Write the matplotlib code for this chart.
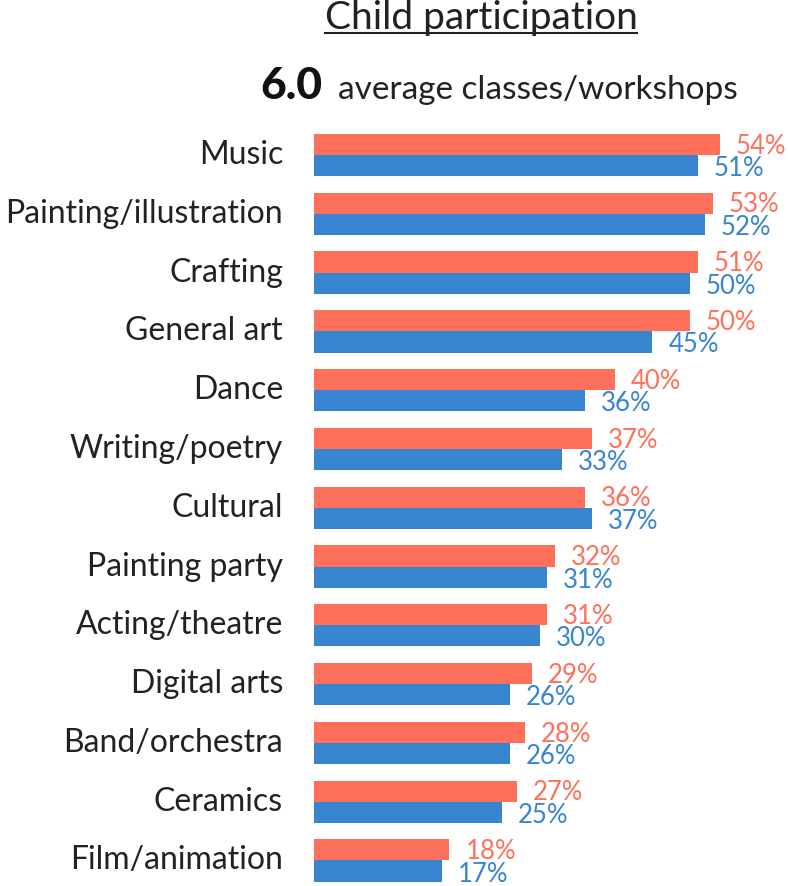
import matplotlib
matplotlib.use("Agg")
import matplotlib.pyplot as plt
from matplotlib.lines import Line2D
import numpy as np

categories = ["Music", "Painting/illustration", "Crafting", "General art", "Dance",
              "Writing/poetry", "Cultural", "Painting party", "Acting/theatre",
              "Digital arts", "Band/orchestra", "Ceramics", "Film/animation"]
coral_vals = [54, 53, 51, 50, 40, 37, 36, 32, 31, 29, 28, 27, 18]
blue_vals = [51, 52, 50, 45, 36, 33, 37, 31, 30, 26, 26, 25, 17]
avg_value = "6.0"

CORAL = "#FF705A"
BLUE = "#3784D0"
TEXT = "#222222"

plt.rcParams['font.family'] = ['Lato', 'DejaVu Sans']

W, H = 788, 886
fig = plt.figure(figsize=(W / 100, H / 100), dpi=100, facecolor='white')

# axes placed in pixel terms
left_px, right_px = 314, 788
top_px, bottom_px = 125.6, 884
ax = fig.add_axes([left_px / W, 1 - bottom_px / H,
                   (right_px - left_px) / W, (bottom_px - top_px) / H])
px_per_pct = 7.52
ax.set_xlim(0, (right_px - left_px) / px_per_pct)
ax.set_ylim(12.4, -0.5)
ax.axis('off')

y = np.arange(len(categories))
h = 0.36
ax.barh(y - h / 2, coral_vals, height=h, color=CORAL)
ax.barh(y + h / 2, blue_vals, height=h, color=BLUE)

off = 16 / px_per_pct
for yi, c, b in zip(y, coral_vals, blue_vals):
    ax.text(c + off, yi - h / 2 + 0.03, f"{c}%", color=CORAL, fontsize=18.5,
            ha='left', va='center')
    ax.text(b + off, yi + h / 2 + 0.05, f"{b}%", color=BLUE, fontsize=18.5,
            ha='left', va='center')
    ax.text(-31 / px_per_pct, yi, categories[yi], color=TEXT, fontsize=23,
            ha='right', va='center')

# title with underline
title = fig.text(481 / W, 1 - 29 / H, "Child participation", fontsize=28,
                 color=TEXT, ha='center', va='baseline')
fig.canvas.draw()
bb = title.get_window_extent()
fig.add_artist(Line2D([bb.x0 / W, bb.x1 / W], [1 - 33 / H, 1 - 33 / H],
                      color=TEXT, linewidth=1.5, transform=fig.transFigure))

# subtitle
fig.text(322 / W, 1 - 99 / H, avg_value, fontsize=32, fontweight='black',
         color='#111111', ha='right', va='baseline')
fig.text(338 / W, 1 - 99 / H, "average classes/workshops", fontsize=24,
         color=TEXT, ha='left', va='baseline')

fig.savefig("out.png", dpi=100, facecolor='white')
